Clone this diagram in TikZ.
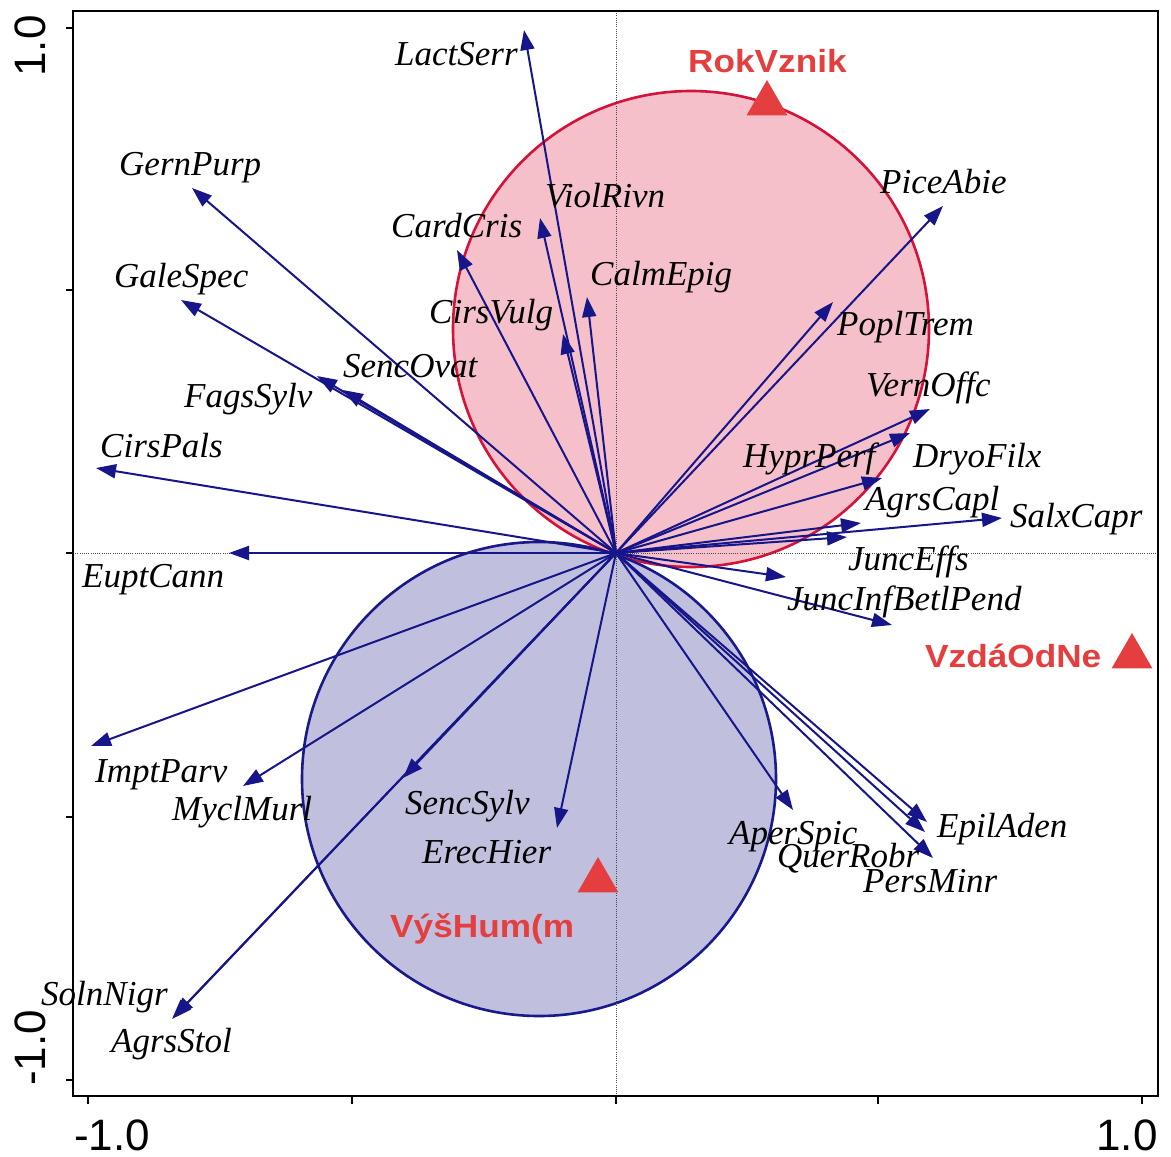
\documentclass[tikz,border=0pt]{standalone}
\usepackage{fontspec}
\setmainfont{Liberation Serif}
\setsansfont{Liberation Sans}
\usetikzlibrary{arrows.meta,shapes.geometric}
\definecolor{navy}{RGB}{22,22,138}
\definecolor{pinkfill}{RGB}{245,192,202}
\definecolor{redline}{RGB}{212,18,58}
\definecolor{bluefill}{RGB}{192,192,222}
\definecolor{blueline}{RGB}{25,25,140}
\definecolor{envred}{RGB}{228,62,62}
\begin{document}
\begin{tikzpicture}[x=1pt,y=-1pt,
  spp/.style={anchor=base west,inner sep=0pt,font=\fontsize{35}{40}\selectfont\itshape},
  env/.style={anchor=base west,inner sep=0pt,text=envred,font=\fontsize{32}{36}\selectfont\sffamily\bfseries,xscale=1.1},
  vec/.style={draw=navy,line width=2pt,-{Triangle[length=20pt,width=14pt]}},
  tri/.style={regular polygon,regular polygon sides=3,fill=envred,minimum size=47pt,inner sep=0pt,outer sep=0pt},
  axtick/.style={line width=1.6pt},
  axlab/.style={font=\fontsize{44}{48}\selectfont\sffamily,inner sep=0pt},
  guide/.style={draw=black!70,line width=0.8pt,dash pattern=on 1pt off 1.2pt}
]
\useasboundingbox (0,0) rectangle (1171,1157);
\fill[white] (0,0) rectangle (1171,1157);

% circles
\draw[fill=pinkfill,draw=redline,line width=2.6pt] (691,329) circle (238pt);
\draw[fill=bluefill,draw=blueline,line width=2.6pt] (539,779) circle (237pt);

% guide lines
\draw[guide] (616,11) -- (616,1096);
\draw[guide] (73,553) -- (1158,553);

% frame and ticks
\draw[line width=1.8pt] (73,11) rectangle (1158,1096);
\foreach \yy in {28,290,553,817,1080} \draw[axtick] (66,\yy) -- (73,\yy);
\foreach \xx in {88,352,616,878,1142} \draw[axtick] (\xx,1096) -- (\xx,1104);

\node[axlab,rotate=90] (ylabtop) at (30,46) {1.0};
\node[axlab,rotate=90] (ylabbot) at (30,1048) {-1.0};
\node[axlab] (xlableft) at (112,1135) {-1.0};
\node[axlab] (xlabright) at (1127,1135) {1.0};

% species vectors
\coordinate (O) at (616,553);
\foreach \n/\x/\y in {
  LactSerr/524/30, ViolRivn/540/218, CardCris/457/250, CalmEpig/587/297, CirsVulg/563/334,
  GernPurp/192/188, GaleSpec/181/300, SencOvat/317/376, FagsSylv/343/390, CirsPals/96/468, EuptCann/229/553,
  ImptParv/91/746, MyclMurl/243/786, SencSylv/403/778, ErecHier/557/828, SolnNigr/172/1019, AgrsStol/174/1017,
  PiceAbie/943/206, PoplTrem/833/302, VernOffc/930/409, DryoFilx/910/433, HyprPerf/882/478,
  AgrsCapl/861/523, SalxCapr/1002/518, JuncEffs/847/537, JuncInf/786/577, BetlPend/892/625,
  AperSpic/793/810, QuerRobr/925/832, EpilAden/927/822, PersMinr/933/858}
  {\coordinate (t\n) at (\x,\y);}
\foreach \n in {LactSerr,ViolRivn,CardCris,CalmEpig,CirsVulg,GernPurp,GaleSpec,SencOvat,FagsSylv,CirsPals,EuptCann,
  ImptParv,MyclMurl,SencSylv,ErecHier,SolnNigr,AgrsStol,PiceAbie,PoplTrem,VernOffc,DryoFilx,HyprPerf,
  AgrsCapl,SalxCapr,JuncEffs,JuncInf,BetlPend,AperSpic,QuerRobr,EpilAden,PersMinr}
  {\draw[vec] (O) -- (t\n);}

% species labels
\node[spp] (lLactSerr) at (395,65) {LactSerr};
\node[spp] (lGernPurp) at (119,175) {GernPurp};
\node[spp] (lGaleSpec) at (114,287) {GaleSpec};
\node[spp] (lSencOvat) at (343,377) {SencOvat};
\node[spp] (lFagsSylv) at (184,407) {FagsSylv};
\node[spp] (lCirsPals) at (100,457) {CirsPals};
\node[spp] (lEuptCann) at (82,587) {EuptCann};
\node[spp] (lImptParv) at (95,782) {ImptParv};
\node[spp] (lMyclMurl) at (172,820) {MyclMurl};
\node[spp] (lSolnNigr) at (41,1005) {SolnNigr};
\node[spp] (lAgrsStol) at (111,1052) {AgrsStol};
\node[spp] (lSencSylv) at (405,814) {SencSylv};
\node[spp] (lErecHier) at (422,863) {ErecHier};
\node[spp] (lCardCris) at (391,237) {CardCris};
\node[spp] (lViolRivn) at (545,207) {ViolRivn};
\node[spp] (lCalmEpig) at (590,285) {CalmEpig};
\node[spp] (lCirsVulg) at (429,323) {CirsVulg};
\node[spp] (lPiceAbie) at (880,193) {PiceAbie};
\node[spp] (lPoplTrem) at (837,335) {PoplTrem};
\node[spp] (lVernOffc) at (866,396) {VernOffc};
\node[spp] (lHyprPerf) at (743,467) {HyprPerf};
\node[spp] (lDryoFilx) at (913,467) {DryoFilx};
\node[spp] (lAgrsCapl) at (865,510) {AgrsCapl};
\node[spp] (lSalxCapr) at (1010,527) {SalxCapr};
\node[spp] (lJuncEffs) at (848,570) {JuncEffs};
\node[spp] (lJuncInf) at (787,610) {JuncInf};
\node[spp] (lBetlPend) at (893,610) {BetlPend};
\node[spp] (lAperSpic) at (729,844) {AperSpic};
\node[spp] (lQuerRobr) at (777,867) {QuerRobr};
\node[spp] (lEpilAden) at (937,837) {EpilAden};
\node[spp] (lPersMinr) at (863,892) {PersMinr};

% environmental variables
\node[tri] (mRokVznik) at (767,103.5) {};
\node[tri] (mVzdaOdNe) at (1132,656.5) {};
\node[tri] (mVysHum) at (598,880.5) {};
\node[env] (eRokVznik) at (688,72) {RokVznik};
\node[env] (eVzdaOdNe) at (925,667) {VzdáOdNe};
\node[env] (eVysHum) at (390,937) {VýšHum(m};
\end{tikzpicture}
\end{document}
